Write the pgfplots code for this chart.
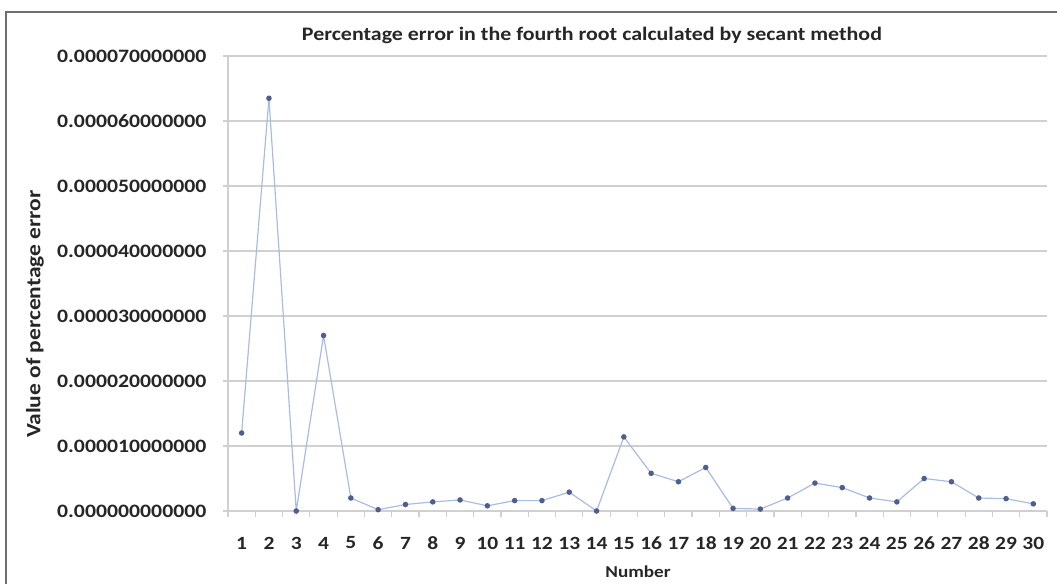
\documentclass[border=0pt]{standalone}
\usepackage{fontspec}
\setmainfont{Carlito}[FakeStretch=1.15]
\usepackage{pgfplots}
\pgfplotsset{compat=1.18}
\definecolor{LineBlue}{RGB}{170,188,226}
\definecolor{MarkBlue}{RGB}{78,94,142}
\definecolor{GridGray}{RGB}{208,208,208}
\definecolor{TextDark}{RGB}{38,38,38}
\definecolor{FrameGray}{RGB}{110,110,110}

\begin{document}
\begin{tikzpicture}
% 1 px of the reference = 0.75pt
\useasboundingbox (-171pt,-54pt) rectangle (621.75pt,383.25pt);
\begin{axis}[
    name=ax, at={(0,0)}, anchor=south west,
    scale only axis,
    width=614.25pt, height=341.25pt,
    xmin=0.5, xmax=30.5, ymin=0, ymax=0.00007,
    clip=false,
    axis x line*=bottom, axis y line*=left,
    axis line style={GridGray, line width=1.1pt, -},
    xtick={1,2,...,30},
    xticklabels={1,2,3,4,5,6,7,8,9,10,11,12,13,14,15,16,17,18,19,20,21,22,23,24,25,26,27,28,29,30},
    minor xtick={0.5,1.5,...,30.5},
    major x tick style={draw=none},
    minor x tick style={GridGray, line width=0.9pt},
    ytick={0,0.00001,0.00002,0.00003,0.00004,0.00005,0.00006,0.00007},
    yticklabels={0.000000000000,0.000010000000,0.000020000000,0.000030000000,0.000040000000,0.000050000000,0.000060000000,0.000070000000},
    scaled y ticks=false,
    major y tick style={GridGray, line width=0.9pt},
    tick align=outside,
    major tick length=3.5pt, minor tick length=4.5pt,
    ymajorgrids, grid style={GridGray, line width=1.1pt},
    yticklabel style={font=\fontsize{14.2}{16}\selectfont\bfseries, text=TextDark, inner sep=0pt, xshift=-12.5pt},
    xticklabel style={font=\fontsize{14}{16}\selectfont\bfseries, text=TextDark, inner sep=0pt, anchor=center, yshift=-20.5pt},
]
\addplot[LineBlue, line width=0.9pt, mark=*, mark size=1.6pt,
    mark options={MarkBlue, fill=MarkBlue}] coordinates {
    (1,1.20e-5) (2,6.35e-5) (3,0.0) (4,2.70e-5) (5,0.20e-5)
    (6,0.02e-5) (7,0.10e-5) (8,0.14e-5) (9,0.17e-5) (10,0.08e-5)
    (11,0.16e-5) (12,0.16e-5) (13,0.29e-5) (14,0.0) (15,1.14e-5)
    (16,0.58e-5) (17,0.45e-5) (18,0.67e-5) (19,0.04e-5) (20,0.03e-5)
    (21,0.20e-5) (22,0.43e-5) (23,0.36e-5) (24,0.20e-5) (25,0.14e-5)
    (26,0.50e-5) (27,0.45e-5) (28,0.20e-5) (29,0.19e-5) (30,0.11e-5)
};
\end{axis}
% outer chart frame (left and top edges visible)
\draw[FrameGray, line width=1.3pt] (-166.5pt,-60pt) -- (-166.5pt,374.25pt) -- (630pt,374.25pt);
% title
\node[font=\fontsize{14.3}{16}\selectfont\bfseries, text=TextDark] at (273pt,357pt)
    {Percentage error in the fourth root calculated by secant method};
% y label
\node[font=\fontsize{15.3}{17}\selectfont\bfseries, text=TextDark, rotate=90] at (-144.75pt,147.75pt)
    {Value of percentage error};
% x label
\node[font=\fontsize{12.5}{14}\selectfont\bfseries, text=TextDark] at (307.5pt,-45.75pt) {Number};
\end{tikzpicture}
\end{document}
